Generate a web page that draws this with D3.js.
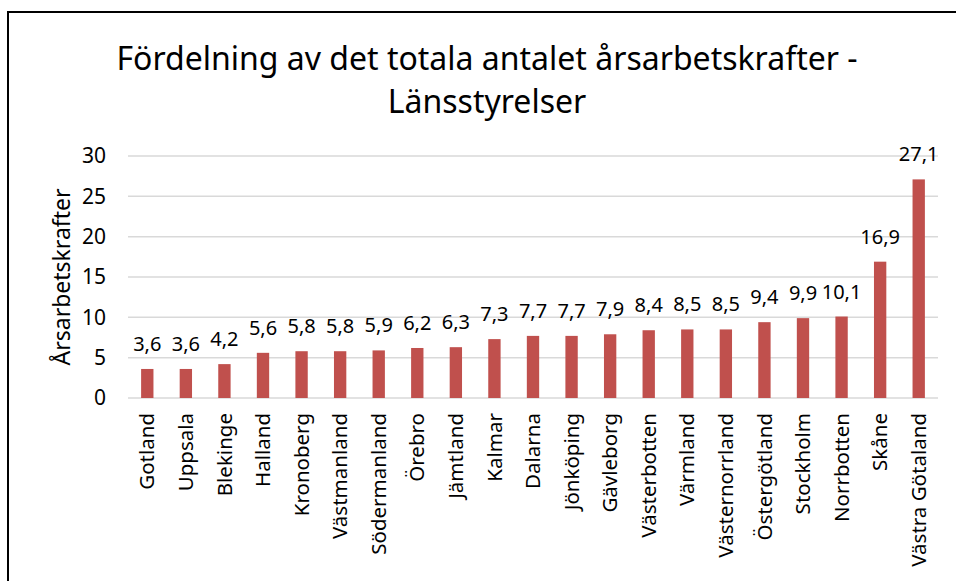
<!DOCTYPE html>
<html>
<head>
<meta charset="utf-8">
<script src="https://cdn.jsdelivr.net/npm/d3@7"></script>
<style>
  body { margin: 0; background: #fff; }
  text { font-family: "Noto Sans", "Open Sans", sans-serif; fill: #000; }
</style>
</head>
<body>
<svg id="chart" width="956" height="581"></svg>
<script>
// data
var categories = ["Gotland", "Uppsala", "Blekinge", "Halland", "Kronoberg", "Västmanland",
  "Södermanland", "Örebro", "Jämtland", "Kalmar", "Dalarna", "Jönköping", "Gävleborg",
  "Västerbotten", "Värmland", "Västernorrland", "Östergötland", "Stockholm", "Norrbotten",
  "Skåne", "Västra Götaland"];
var values = [3.6, 3.6, 4.2, 5.6, 5.8, 5.8, 5.9, 6.2, 6.3, 7.3, 7.7, 7.7, 7.9, 8.4, 8.5, 8.5,
  9.4, 9.9, 10.1, 16.9, 27.1];
var yTicks = [0, 5, 10, 15, 20, 25, 30];
var titleLines = ["Fördelning av det totala antalet årsarbetskrafter -", "Länsstyrelser"];
var yTitle = "Årsarbetskrafter";

var svg = d3.select("#chart");

// outer frame (only left and top edges show in the picture)
svg.append("path")
  .attr("d", "M8,581 V12 H956")
  .attr("fill", "none")
  .attr("stroke", "#000")
  .attr("stroke-width", 2);

var margin = { left: 128, right: 18 };
var x = d3.scaleBand()
  .domain(categories)
  .range([margin.left, 956 - margin.right])
  .paddingInner(0.68)
  .paddingOuter(0.34);
var y = d3.scaleLinear().domain([0, 30]).range([398, 156]);

// gridlines
svg.append("g").selectAll("line")
  .data(yTicks)
  .enter().append("line")
  .attr("x1", margin.left).attr("x2", 956 - margin.right)
  .attr("y1", function (d) { return y(d); })
  .attr("y2", function (d) { return y(d); })
  .attr("stroke", "#d9d9d9")
  .attr("stroke-width", 1.5);

// y tick labels
svg.append("g").selectAll("text")
  .data(yTicks)
  .enter().append("text")
  .attr("x", 106)
  .attr("y", function (d) { return y(d); })
  .attr("dy", "0.35em")
  .attr("text-anchor", "end")
  .style("font-size", "21px")
  .text(function (d) { return d; });

// bars
svg.append("g").selectAll("rect")
  .data(values)
  .enter().append("rect")
  .attr("x", function (d, i) { return x(categories[i]); })
  .attr("y", function (d) { return y(d); })
  .attr("width", x.bandwidth())
  .attr("height", function (d) { return y(0) - y(d); })
  .attr("fill", "#c0504d");

// value labels
var fmt = function (d) { return d3.format(".1f")(d).replace(".", ","); };
svg.append("g").selectAll("text")
  .data(values)
  .enter().append("text")
  .attr("x", function (d, i) { return x(categories[i]) + x.bandwidth() / 2; })
  .attr("y", function (d) { return y(d) - 18; })
  .attr("text-anchor", "middle")
  .style("font-size", "20px")
  .text(fmt);

// category labels
svg.append("g").selectAll("text")
  .data(categories)
  .enter().append("text")
  .attr("transform", function (d) {
    return "translate(" + (x(d) + x.bandwidth() / 2) + ",413) rotate(-90)";
  })
  .attr("dy", "0.35em")
  .attr("text-anchor", "end")
  .style("font-size", "20.5px")
  .text(function (d) { return d; });

// y axis title
svg.append("text")
  .attr("transform", "translate(62,277) rotate(-90)")
  .attr("dy", "0.35em")
  .attr("text-anchor", "middle")
  .style("font-size", "23px")
  .text(yTitle);

// chart title
svg.append("g").selectAll("text")
  .data(titleLines)
  .enter().append("text")
  .attr("x", 487)
  .attr("y", function (d, i) { return 70 + i * 43; })
  .attr("text-anchor", "middle")
  .style("font-size", "32px")
  .text(function (d) { return d; });
</script>
</body>
</html>
